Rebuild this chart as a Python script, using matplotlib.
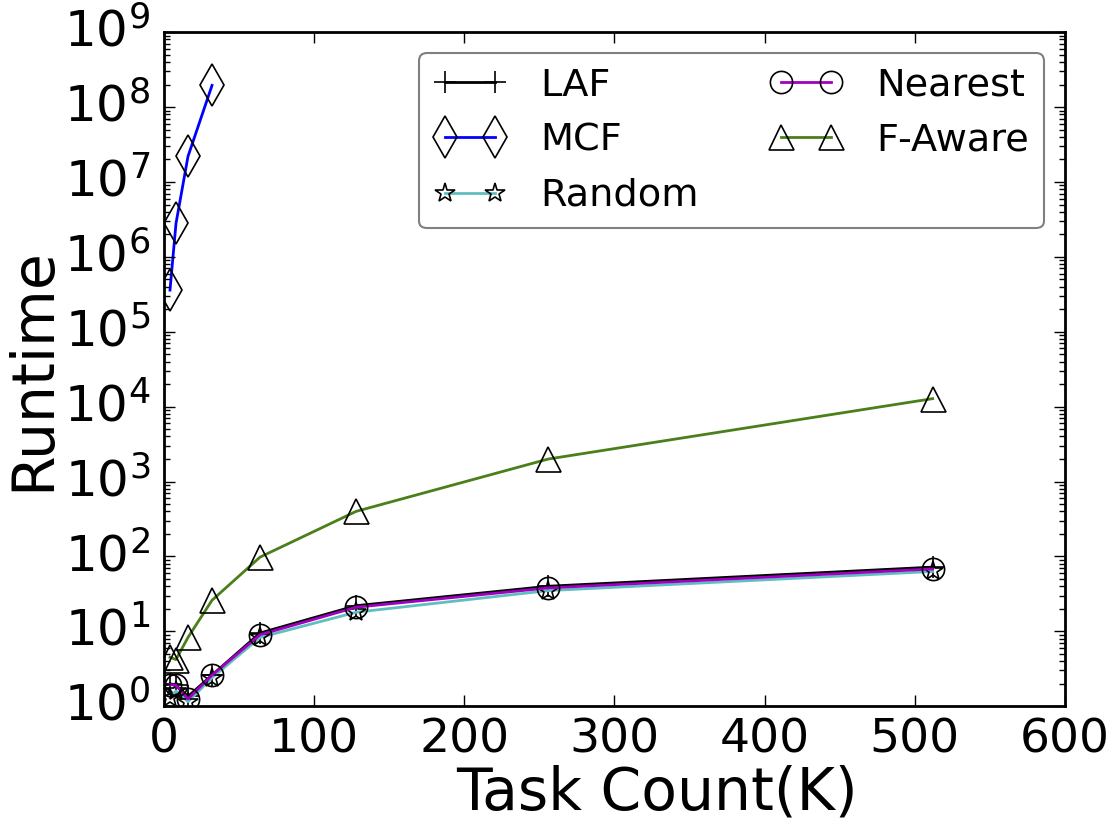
import matplotlib
matplotlib.use("Agg")
import matplotlib.pyplot as plt

plt.style.use('classic')
plt.rcParams['font.family'] = ['DejaVu Sans']
plt.rcParams['mathtext.fontset'] = 'dejavusans'
plt.rcParams['mathtext.default'] = 'regular'

task_counts = [4, 8, 16, 32, 64, 128, 256, 512]
mcf_x = [4, 8, 16, 32]

laf = [2.0, 1.9, 1.35, 2.6, 9.5, 22, 40, 72]
mcf = [3.6e5, 2.8e6, 2.2e7, 1.95e8]
random_ = [1.3, 1.6, 1.15, 2.4, 8.3, 18, 35, 63]
nearest = [1.95, 1.9, 1.25, 2.6, 9.0, 21, 38, 68]
faware = [4.5, 4.2, 8.3, 26, 98, 400, 2000, 12800]

fig = plt.figure(figsize=(11.08, 8.26), dpi=100)
ax = fig.add_axes([0.148, 0.145, 0.813, 0.816])

ms_kw = dict(markerfacecolor='none', markeredgecolor='black', markeredgewidth=1.2)
ax.plot(task_counts, laf, color='black', lw=2, marker='+', markersize=16, label='LAF', **ms_kw)
ax.plot(mcf_x, mcf, color='#0000ff', lw=2, marker='d', markersize=21, label='MCF', **ms_kw)
ax.plot(task_counts, random_, color='#5fbfbf', lw=2, marker='*', markersize=15, label='Random', **ms_kw)
ax.plot(task_counts, nearest, color='#a000c0', lw=2, marker='o', markersize=16, label='Nearest', **ms_kw)
ax.plot(task_counts, faware, color='#4a7f1a', lw=2, marker='^', markersize=18, label='F-Aware', **ms_kw)

ax.set_yscale('log')
ax.set_xlim(0, 600)
ax.set_ylim(1, 1e9)
ax.set_xticks([0, 100, 200, 300, 400, 500, 600])
ax.tick_params(axis='both', which='major', length=8, width=1)
ax.tick_params(axis='x', which='major', labelsize=34, pad=8)
ax.tick_params(axis='y', which='major', labelsize=36, pad=10)
ax.tick_params(axis='both', which='minor', length=4, width=1)
for s in ax.spines.values():
    s.set_linewidth(2)

ax.set_xlabel('Task Count(K)', fontsize=42)
ax.xaxis.set_label_coords(0.547, -0.086)
ax.set_ylabel('Runtime', fontsize=42, labelpad=2)

leg = ax.legend(loc='upper right', ncol=2, fontsize=27.5, numpoints=2,
                fancybox=True, borderaxespad=0.55, handlelength=1.91,
                handletextpad=0.89, columnspacing=1.85, labelspacing=0.5,
                borderpad=0.38)
leg.get_frame().set_edgecolor('#808080')
leg.get_frame().set_linewidth(1.5)

fig.savefig('out.png', dpi=100)
